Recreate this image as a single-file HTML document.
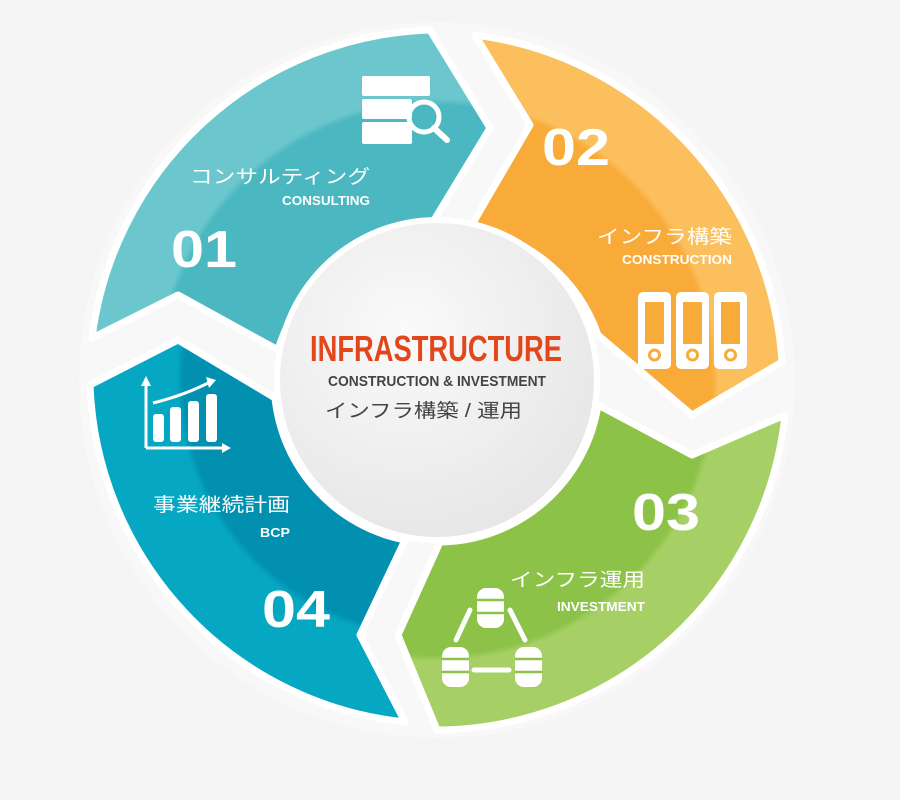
<!DOCTYPE html>
<html><head><meta charset="utf-8"><style>
html,body{margin:0;padding:0;background:#f5f5f5;}
svg{display:block;}
text{font-family:"Liberation Sans","Noto Sans CJK JP",sans-serif;}
</style></head><body>
<svg width="900" height="800" viewBox="0 0 900 800" xmlns="http://www.w3.org/2000/svg">
<defs>
<radialGradient id="g1" gradientUnits="userSpaceOnUse" cx="437" cy="380" r="352">
<stop offset="0.45" stop-color="#4ab7c1"/><stop offset="0.78" stop-color="#4ab7c1"/><stop offset="0.80" stop-color="#6bc7cd"/><stop offset="1" stop-color="#6bc7cd"/></radialGradient>
<radialGradient id="g2" gradientUnits="userSpaceOnUse" cx="437" cy="380" r="352">
<stop offset="0.45" stop-color="#f8ab38"/><stop offset="0.78" stop-color="#f8ab38"/><stop offset="0.80" stop-color="#fbc05d"/><stop offset="1" stop-color="#fbc05d"/></radialGradient>
<radialGradient id="g3" gradientUnits="userSpaceOnUse" cx="437" cy="380" r="352">
<stop offset="0.45" stop-color="#8bc247"/><stop offset="0.78" stop-color="#8bc247"/><stop offset="0.80" stop-color="#a6d066"/><stop offset="1" stop-color="#a6d066"/></radialGradient>
<radialGradient id="g4" gradientUnits="userSpaceOnUse" cx="437" cy="380" r="352">
<stop offset="0.45" stop-color="#0290b1"/><stop offset="0.72" stop-color="#0290b1"/><stop offset="0.74" stop-color="#05a7c3"/><stop offset="1" stop-color="#05a7c3"/></radialGradient>
<radialGradient id="gc" cx="0.4" cy="0.35" r="0.7">
<stop offset="0" stop-color="#fafafa"/><stop offset="1" stop-color="#e6e6e6"/></radialGradient>
</defs>
<circle cx="437" cy="380" r="358" fill="#ffffff" opacity="0.35"/>
<g stroke="#ffffff" stroke-width="7" stroke-linejoin="round">
<path d="M 92 338 A 352 352 0 0 1 430 30 L 490 128 L 425 235 A 160 160 0 0 0 278 350 L 178 295 Z" fill="url(#g1)"/>
<path d="M 475 35 A 352 352 0 0 1 782 362 L 692 415 L 598 335 A 162 162 0 0 0 470 228 L 530 125 Z" fill="url(#g2)"/>
<path d="M 785 415 A 352 352 0 0 1 437 730 L 398 635 L 440 542 A 162 162 0 0 0 598 405 L 692 455 Z" fill="url(#g3)"/>
<path d="M 405 722 A 352 352 0 0 1 90 385 L 178 340 L 275 398 A 162 162 0 0 0 405 540 L 360 635 Z" fill="url(#g4)"/>
</g>
<circle cx="437" cy="380" r="163" fill="#ffffff"/>
<circle cx="437" cy="380" r="157" fill="url(#gc)"/>

<text x="310" y="361" textLength="252" lengthAdjust="spacingAndGlyphs" font-size="36" font-weight="bold" fill="#e2471b">INFRASTRUCTURE</text>
<text x="328" y="386" textLength="218" lengthAdjust="spacingAndGlyphs" font-size="15" font-weight="bold" fill="#444">CONSTRUCTION &amp; INVESTMENT</text>
<text x="325" y="417" textLength="197" lengthAdjust="spacingAndGlyphs" font-size="19" fill="#444">インフラ構築 / 運用</text>

<g fill="#ffffff">
<text x="190" y="183" textLength="180" lengthAdjust="spacingAndGlyphs" font-size="19">コンサルティング</text>
<text x="370" y="205" text-anchor="end" textLength="88" lengthAdjust="spacingAndGlyphs" font-size="13" font-weight="bold">CONSULTING</text>
<text x="171" y="267" font-size="52" font-weight="bold" textLength="66" lengthAdjust="spacingAndGlyphs">01</text>
<text x="542" y="165" font-size="52" font-weight="bold" textLength="68" lengthAdjust="spacingAndGlyphs">02</text>
<text x="597" y="243" textLength="135" lengthAdjust="spacingAndGlyphs" font-size="19">インフラ構築</text>
<text x="732" y="264" text-anchor="end" textLength="110" lengthAdjust="spacingAndGlyphs" font-size="13" font-weight="bold">CONSTRUCTION</text>
<text x="632" y="530" font-size="52" font-weight="bold" textLength="68" lengthAdjust="spacingAndGlyphs">03</text>
<text x="510" y="586" textLength="135" lengthAdjust="spacingAndGlyphs" font-size="19">インフラ運用</text>
<text x="645" y="611" text-anchor="end" textLength="88" lengthAdjust="spacingAndGlyphs" font-size="13" font-weight="bold">INVESTMENT</text>
<text x="262" y="627" font-size="52" font-weight="bold" textLength="68" lengthAdjust="spacingAndGlyphs">04</text>
<text x="153" y="511" textLength="137" lengthAdjust="spacingAndGlyphs" font-size="19">事業継続計画</text>
<text x="290" y="537" text-anchor="end" textLength="30" lengthAdjust="spacingAndGlyphs" font-size="13" font-weight="bold">BCP</text>
</g>

<g fill="#ffffff">
<rect x="362" y="76" width="68" height="20" rx="2"/>
<rect x="362" y="99" width="50" height="20" rx="2"/>
<rect x="362" y="122" width="50" height="22" rx="2"/>
<circle cx="424" cy="117" r="15" fill="none" stroke="#ffffff" stroke-width="5"/>
<line x1="434" y1="128" x2="447" y2="140" stroke="#ffffff" stroke-width="6" stroke-linecap="round"/>
</g>
<g>
<rect x="638" y="292" width="33" height="77" rx="5" fill="#fff"/>
<rect x="676" y="292" width="33" height="77" rx="5" fill="#fff"/>
<rect x="714" y="292" width="33" height="77" rx="5" fill="#fff"/>
<g fill="#f8ab38">
<rect x="645" y="302" width="19" height="42"/><rect x="683" y="302" width="19" height="42"/><rect x="721" y="302" width="19" height="42"/>
</g>
<g fill="none" stroke="#f8ab38" stroke-width="3">
<circle cx="654.5" cy="355" r="5"/><circle cx="692.5" cy="355" r="5"/><circle cx="730.5" cy="355" r="5"/>
</g>
</g>
<g fill="#fff" stroke="#fff">
<line x1="146" y1="384" x2="146" y2="448" stroke-width="3"/>
<polygon points="141,386 146,376 151,386" stroke="none"/>
<line x1="146" y1="448" x2="224" y2="448" stroke-width="3"/>
<polygon points="222,443 231,448 222,453" stroke="none"/>
<rect x="153" y="414" width="11" height="28" rx="3" stroke="none"/>
<rect x="170" y="407" width="11" height="35" rx="3" stroke="none"/>
<rect x="188" y="401" width="11" height="41" rx="3" stroke="none"/>
<rect x="206" y="394" width="11" height="48" rx="3" stroke="none"/>
<path d="M 153 403 Q 185 395 210 382" fill="none" stroke-width="3"/>
<polygon points="206,377 216,380 209,388" stroke="none"/>
</g>
<g fill="#fff">
<rect x="477" y="588" width="27" height="40" rx="9"/>
<rect x="442" y="647" width="27" height="40" rx="9"/>
<rect x="515" y="647" width="27" height="40" rx="9"/>
<g stroke="#8bc247" stroke-width="2.5">
<line x1="477" y1="600" x2="504" y2="600"/><line x1="477" y1="613" x2="504" y2="613"/>
<line x1="442" y1="659" x2="469" y2="659"/><line x1="442" y1="672" x2="469" y2="672"/>
<line x1="515" y1="659" x2="542" y2="659"/><line x1="515" y1="672" x2="542" y2="672"/>
</g>
<g stroke="#fff" stroke-width="5" stroke-linecap="round">
<line x1="470" y1="610" x2="456" y2="640"/>
<line x1="510" y1="610" x2="525" y2="640"/>
<line x1="474" y1="670" x2="509" y2="670"/>
</g>
</g>
</svg>
</body></html>
